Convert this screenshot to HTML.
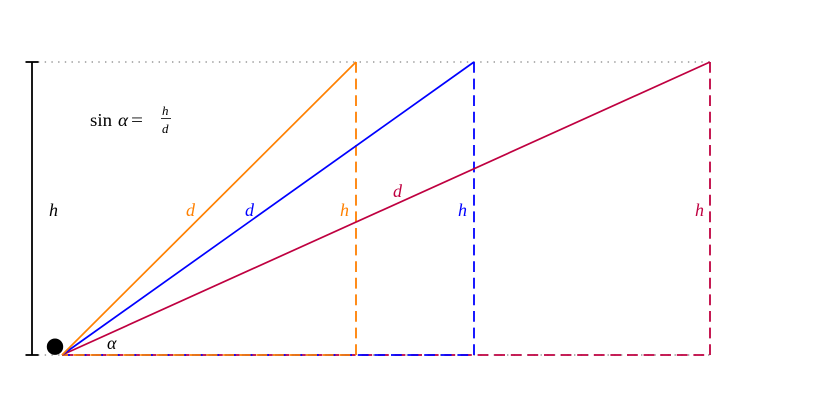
<!DOCTYPE html>
<html>
<head>
<meta charset="utf-8">
<style>
  html, body { margin: 0; padding: 0; background: #ffffff; }
  svg { display: block; }
  .it { font-family: "Liberation Serif", serif; font-style: italic; }
  .rm { font-family: "Liberation Serif", serif; }
</style>
</head>
<body>
<svg width="831" height="418" viewBox="0 0 831 418" xmlns="http://www.w3.org/2000/svg">
  <rect x="0" y="0" width="831" height="418" fill="#ffffff"/>

  <!-- gray dotted lines -->
  <line x1="38" y1="62" x2="710" y2="62" stroke="#999999" stroke-width="1.4" stroke-dasharray="1.4 5.3" />
  <line x1="38" y1="355" x2="710" y2="355" stroke="#999999" stroke-width="1.4" stroke-dasharray="1.4 5.3" />

  <!-- left bracket -->
  <line x1="32" y1="62" x2="32" y2="355" stroke="#000" stroke-width="1.8"/>
  <line x1="25.5" y1="62" x2="38.5" y2="62" stroke="#000" stroke-width="1.8"/>
  <line x1="25.5" y1="355" x2="38.5" y2="355" stroke="#000" stroke-width="1.8"/>

  <!-- dashed paths (top -> down -> left to origin) -->
  <path d="M710 62 L710 355 L62 355" fill="none" stroke="#bf0040" stroke-width="1.8" stroke-dasharray="10.8 5.8"/>
  <path d="M474 62 L474 355 L62 355" fill="none" stroke="#0000ff" stroke-width="1.8" stroke-dasharray="10.8 5.8"/>
  <path d="M356 62 L356 355 L62 355" fill="none" stroke="#ff8000" stroke-width="1.8" stroke-dasharray="10.8 5.8"/>

  <!-- hypotenuse lines -->
  <line x1="62" y1="355" x2="710" y2="62" stroke="#bf0040" stroke-width="1.7"/>
  <line x1="62" y1="355" x2="474" y2="62" stroke="#0000ff" stroke-width="1.7"/>
  <line x1="62" y1="355" x2="356" y2="62" stroke="#ff8000" stroke-width="1.7"/>

  <!-- black dot -->
  <circle cx="55" cy="346.7" r="8.2" fill="#000"/>

  <!-- labels -->
  <text class="it" x="49" y="216" font-size="18" fill="#000">h</text>
  <text class="it" x="186" y="216" font-size="18" fill="#ff8000">d</text>
  <text class="it" x="245" y="216" font-size="18" fill="#0000ff">d</text>
  <text class="it" x="340" y="216" font-size="18" fill="#ff8000">h</text>
  <text class="it" x="458" y="216" font-size="18" fill="#0000ff">h</text>
  <text class="it" x="695" y="216" font-size="18" fill="#bf0040">h</text>
  <text class="it" x="393" y="197" font-size="18" fill="#bf0040">d</text>
  <text class="it" x="107" y="349" font-size="18" fill="#000">α</text>

  <!-- formula -->
  <text class="rm" x="90" y="126" font-size="18" fill="#000" textLength="22" lengthAdjust="spacingAndGlyphs">sin</text>
  <text class="it" x="118" y="126" font-size="18" fill="#000" textLength="10" lengthAdjust="spacingAndGlyphs">α</text>
  <text class="rm" x="131" y="126" font-size="18" fill="#000" textLength="12" lengthAdjust="spacingAndGlyphs">=</text>
  <text class="it" x="162" y="115" font-size="13" fill="#000">h</text>
  <line x1="161" y1="118.5" x2="171" y2="118.5" stroke="#000" stroke-width="0.8"/>
  <text class="it" x="162" y="133" font-size="13" fill="#000">d</text>
</svg>
</body>
</html>
